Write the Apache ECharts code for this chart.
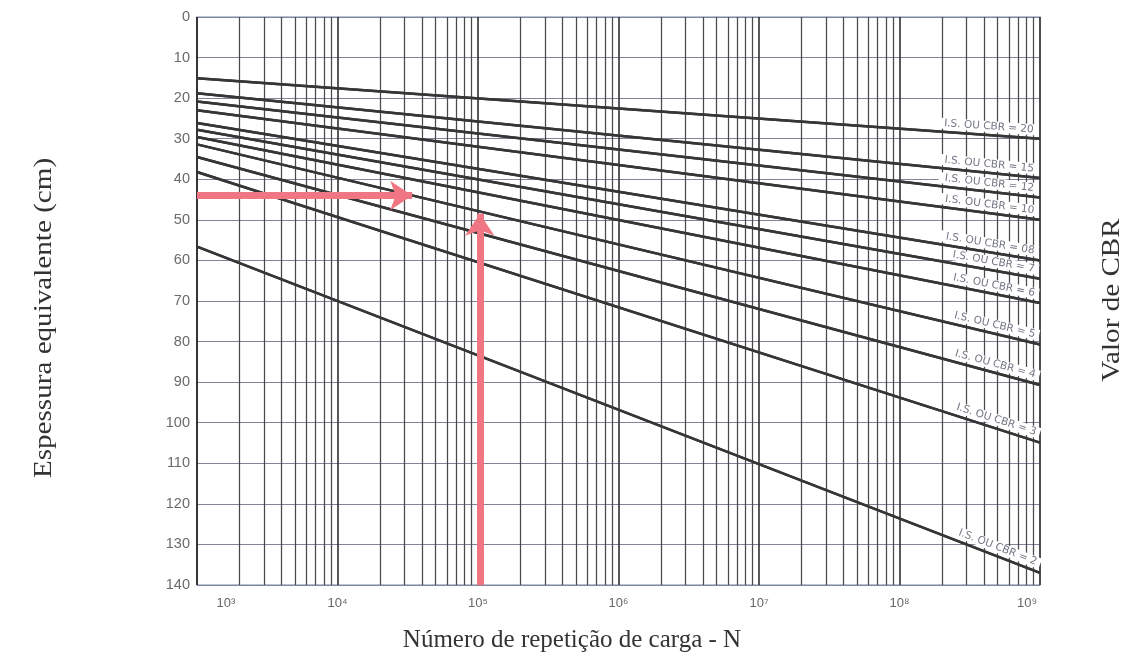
<!DOCTYPE html>
<html>
<head>
<meta charset="utf-8">
<script src="https://cdn.jsdelivr.net/npm/echarts@6/dist/echarts.min.js"></script>
<style>
html,body{margin:0;padding:0;background:#fff;}
#chart{width:1148px;height:663px;}
</style>
</head>
<body>
<div id="chart"></div>
<script>
// ---- data ----
const cbrLabels   = ['20', '15', '12', '10', '08', '7', '6', '5', '4', '3', '2'];
const nStart      = 1e3;   // left end of every line (N)
const nEnd        = 1e9;   // right end of every line (N)
const hAtStart    = [15.1, 18.8, 20.8, 23.0, 26.1, 27.8, 29.6, 31.4, 34.5, 38.2, 56.6]; // cm at N = 10^3
const hAtEnd      = [30.0, 39.7, 44.5, 50.0, 60.0, 64.5, 70.5, 80.7, 90.7, 104.9, 137.0]; // cm at N = 10^9
const decadeTicks = [1e3, 1e4, 1e5, 1e6, 1e7, 1e8, 1e9];
const minorSteps  = [2, 3, 4, 5, 6, 7, 8, 9];
const yTicks      = [0, 10, 20, 30, 40, 50, 60, 70, 80, 90, 100, 110, 120, 130, 140];
// example arrows
const arrowH = { fromN: 1e3, toN: 3.4e4, h: 44 };
const arrowV = { n: 1.03e5, fromH: 140, toH: 48.5 };

const sup = {3:'\u00B3',4:'\u2074',5:'\u2075',6:'\u2076',7:'\u2077',8:'\u2078',9:'\u2079'};
const SANS = 'Liberation Sans, Arial, sans-serif';
const WIDE = 'DejaVu Sans, Verdana, sans-serif';
const SERIF = 'Liberation Serif, Times New Roman, serif';

const minorLines = [];
for (let d = 0; d < decadeTicks.length - 1; d++) {
  minorSteps.forEach(k => minorLines.push({ xAxis: k * decadeTicks[d] }));
}

const series = [];
series.push({
  type: 'line', data: [], silent: true, z: 1,
  markLine: {
    silent: true, symbol: 'none', animation: false,
    label: { show: false },
    lineStyle: { color: '#4a4a4a', width: 1.25, type: 'solid' },
    data: minorLines
  }
});

cbrLabels.forEach((lab, i) => {
  series.push({
    name: 'CBR ' + lab,
    type: 'line',
    data: [[nStart, hAtStart[i]], [nEnd, hAtEnd[i]]],
    showSymbol: false, silent: true, z: 3,
    lineStyle: { color: '#363636', width: 2.5 },
    markLine: {
      silent: true, symbol: 'none', animation: false,
      lineStyle: { color: '#363636', width: 2.5, type: 'solid' },
      label: {
        show: true, position: 'insideEndTop', distance: 3,
        formatter: 'I.S. OU CBR = ' + lab,
        color: '#737684', fontSize: 10.5, fontFamily: WIDE,
        backgroundColor: '#ffffff', padding: [0, 4, 0, 6]
      },
      data: [[{ coord: [nStart, hAtStart[i]] }, { coord: [nEnd, hAtEnd[i]] }]]
    }
  });
});

series.push({
  type: 'line', data: [], silent: true, z: 10,
  markLine: {
    silent: true, animation: false, z: 10,
    symbol: ['none', 'arrow'], symbolSize: 22,
    label: { show: false },
    lineStyle: { color: '#f07684', width: 7, type: 'solid', opacity: 1 },
    data: [
      [{ coord: [arrowH.fromN, arrowH.h] }, { coord: [arrowH.toN, arrowH.h] }],
      [{ coord: [arrowV.n, arrowV.fromH] }, { coord: [arrowV.n, arrowV.toH] }]
    ]
  }
});

const chart = echarts.init(document.getElementById('chart'), null, { renderer: 'canvas' });
chart.setOption({
  animation: false,
  backgroundColor: '#ffffff',
  grid: {
    left: 197, right: 108, top: 17, bottom: 78,
    show: true, borderColor: '#a7b0c6', borderWidth: 1.5, backgroundColor: 'transparent'
  },
  xAxis: {
    type: 'log', logBase: 10, min: nStart, max: nEnd,
    axisLine: { show: false }, axisTick: { show: false },
    splitLine: { show: true, lineStyle: { color: '#303030', width: 1.6 } },
    axisLabel: {
      color: '#666666', fontSize: 13, fontFamily: SANS, margin: 12,
      showMinLabel: true, showMaxLabel: true,
      formatter: function (v) {
        const e = Math.round(Math.log10(v));
        const t = '10' + sup[e];
        if (e === 3) return '{first|' + t + '}';
        if (e === 9) return '{last|' + t + '}';
        return t;
      },
      rich: {
        first: { padding: [0, 0, 0, 58], color: '#666666', fontSize: 13, fontFamily: SANS },
        last:  { padding: [0, 26, 0, 0], color: '#666666', fontSize: 13, fontFamily: SANS }
      }
    }
  },
  yAxis: {
    type: 'value', inverse: true, min: yTicks[0], max: yTicks[yTicks.length - 1], interval: 10,
    axisLine: { show: false }, axisTick: { show: false },
    splitLine: { show: true, lineStyle: { color: '#7f8596', width: 1.2 } },
    axisLabel: { color: '#6a6a6a', fontSize: 14.5, fontFamily: SANS, margin: 7 }
  },
  graphic: [
    { type: 'text', silent: true, rotation: Math.PI / 2, scaleX: 1.12,
      style: { text: 'Espessura equivalente (cm)', font: '26px ' + SERIF, fill: '#333',
               textAlign: 'center', textVerticalAlign: 'middle' },
      position: [44, 318] },
    { type: 'text', silent: true,
      style: { text: 'Número de repetição de carga - N', font: '25px ' + SERIF, fill: '#333',
               textAlign: 'center', textVerticalAlign: 'middle' },
      position: [572, 640] },
    { type: 'text', silent: true, rotation: Math.PI / 2, scaleX: 1.12,
      style: { text: 'Valor de CBR', font: '26px ' + SERIF, fill: '#333',
               textAlign: 'center', textVerticalAlign: 'middle' },
      position: [1112, 300] }
  ],
  series: series
});
</script>
</body>
</html>
